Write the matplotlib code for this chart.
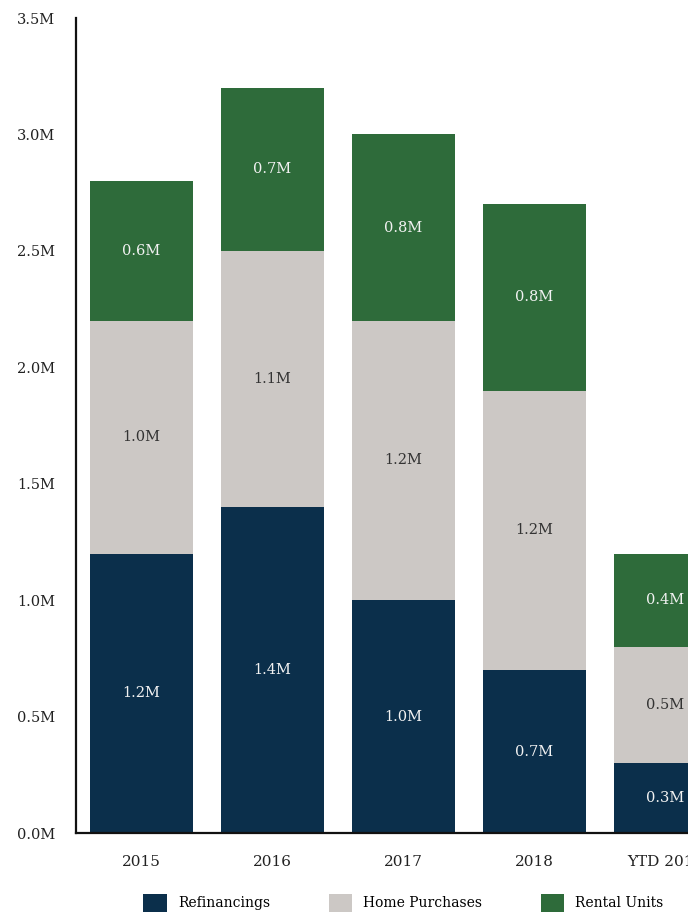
import matplotlib
matplotlib.use("Agg")
import matplotlib.pyplot as plt
from matplotlib.patches import Patch
import numpy as np

plt.rcParams['font.family'] = ['DejaVu Serif']

# data (millions)
years = ["2015", "2016", "2017", "2018", "YTD 2019"]
refinancings = [1.2, 1.4, 1.0, 0.7, 0.3]
home_purchases = [1.0, 1.1, 1.2, 1.2, 0.5]
rental_units = [0.6, 0.7, 0.8, 0.8, 0.4]
series_names = ["Refinancings", "Home Purchases", "Rental Units"]
colors = ["#0b2f4b", "#ccc8c5", "#2e6b3a"]
label_colors = ["#f2f2f2", "#333333", "#f2f2f2"]

fig = plt.figure(figsize=(6.88, 9.16), dpi=100)
# axes run past the right edge, like the source crop
ax = fig.add_axes([0.1105, 0.0906, 0.952, 0.8897])

x = np.arange(len(years))
bottom = np.zeros(len(years))
for vals, name, col, lcol in zip([refinancings, home_purchases, rental_units],
                                  series_names, colors, label_colors):
    vals = np.array(vals)
    ax.bar(x, vals, width=0.79, bottom=bottom, color=col, label=name)
    for xi, b, v in zip(x, bottom, vals):
        ax.text(xi, b + v / 2, f"{v:.1f}M", ha="center", va="center",
                color=lcol, fontsize=10.5)
    bottom += vals

ax.set_xlim(-0.5, len(years) - 0.5)
ax.set_ylim(0, 3.5)
ax.set_yticks(np.arange(0, 3.51, 0.5))
ax.set_yticklabels([f"{v:.1f}M" for v in np.arange(0, 3.51, 0.5)], fontsize=10.5, color="#222222")
ax.set_xticks(x)
ax.set_xticklabels(years, fontsize=11, color="#222222")
ax.tick_params(axis="y", length=0, pad=15)
ax.tick_params(axis="x", length=0, pad=16)

for s in ["top", "right"]:
    ax.spines[s].set_visible(False)
for s in ["left", "bottom"]:
    ax.spines[s].set_linewidth(1.6)
    ax.spines[s].set_color("#111111")

handles = [Patch(facecolor=c, edgecolor="none") for c in colors]
ax.legend(handles, series_names, loc="upper center", bbox_to_anchor=(0.5, -0.059),
          ncol=3, frameon=False, fontsize=10, handlelength=1.7, handleheight=1.7,
          columnspacing=4.2, handletextpad=0.8)

fig.savefig("out.png", dpi=100)
